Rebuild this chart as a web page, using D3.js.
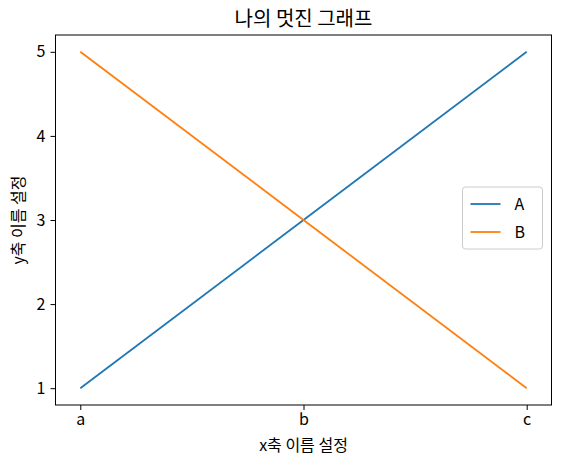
<!DOCTYPE html>
<html><head><meta charset="utf-8">
<script src="https://cdn.jsdelivr.net/npm/d3@7"></script>
<style>body{margin:0;background:#fff}text{font-family:"Noto Sans CJK KR","Noto Sans",sans-serif}</style>
</head><body>
<svg id="chart" width="561" height="466"></svg>
<script>
var categories = ['a', 'b', 'c'];
var seriesA = [1, 3, 5];
var seriesB = [5, 3, 1];
var yTicks = [1, 2, 3, 4, 5];
var series = [
    {name: 'A', values: seriesA, color: '#1f77b4'},
    {name: 'B', values: seriesB, color: '#ff7f0e'}
];

var svg = d3.select('#chart');
var padding = {t: 35, r: 9.5, b: 61, l: 55.5};
var w = 561 - padding.l - padding.r;
var h = 466 - padding.t - padding.b;
var g = svg.append('g').attr('transform', 'translate(' + [padding.l, padding.t] + ')');

var xScale = d3.scalePoint().domain(categories).range([w * 0.05, w * 0.95]);
var yScale = d3.scaleLinear().domain([0.8, 5.2]).range([h, 0]);

var xAxis = g.append('g').attr('transform', 'translate(0,' + h + ')')
    .call(d3.axisBottom(xScale).tickSizeOuter(0).tickSize(5).tickPadding(4));
var yAxis = g.append('g')
    .call(d3.axisLeft(yScale).tickValues(yTicks).tickFormat(d3.format('d')).tickSizeOuter(0).tickSize(5).tickPadding(5));
[xAxis, yAxis].forEach(function(a) {
    a.select('.domain').remove();
    a.selectAll('text').attr('font-size', 16).attr('fill', '#000')
        .style('font-family', '"Noto Sans CJK KR",sans-serif');
});

var line = d3.line().x(function(d, i) { return xScale(categories[i]); }).y(function(d) { return yScale(d); });
series.forEach(function(s) {
    g.append('path').datum(s.values).attr('d', line)
        .attr('fill', 'none').attr('stroke', s.color).attr('stroke-width', 1.8);
});

g.append('rect').attr('width', w).attr('height', h)
    .attr('fill', 'none').attr('stroke', '#000').attr('stroke-width', 1);

// legend
var lg = g.append('g').attr('transform', 'translate(' + (w - 89) + ',' + (h / 2 - 33) + ')');
lg.append('rect').attr('width', 80).attr('height', 62).attr('rx', 3)
    .attr('fill', '#fff').attr('fill-opacity', 0.8).attr('stroke', '#ccc');
series.forEach(function(s, i) {
    var y = 17 + i * 28;
    lg.append('line').attr('x1', 8).attr('x2', 38).attr('y1', y).attr('y2', y)
        .attr('stroke', s.color).attr('stroke-width', 1.8);
    lg.append('text').attr('x', 52).attr('y', y + 6).attr('font-size', 16).text(s.name);
});

svg.append('text').attr('x', padding.l + w / 2).attr('y', 26).attr('text-anchor', 'middle')
    .attr('font-size', 20).text('나의 멋진 그래프');
svg.append('text').attr('x', padding.l + w / 2).attr('y', 451).attr('text-anchor', 'middle')
    .attr('font-size', 16).text('x축 이름 설정');
svg.append('text').attr('transform', 'translate(24,' + (padding.t + h / 2) + ') rotate(-90)')
    .attr('text-anchor', 'middle').attr('font-size', 16).text('y축 이름 설정');
</script>
</body></html>
